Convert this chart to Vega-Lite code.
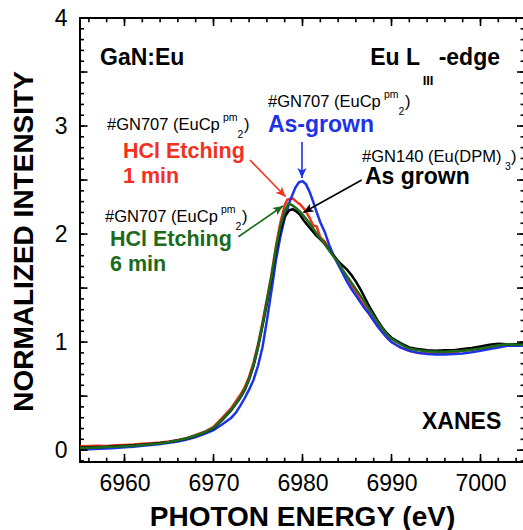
{
  "$schema": "https://vega.github.io/schema/vega-lite/v6.json",
  "width": 445,
  "height": 444,
  "autosize": {"type": "none"},
  "padding": {"left": 80, "top": 18, "right": 0, "bottom": 68},
  "background": "white",
  "config": {
    "view": {"stroke": "black", "strokeWidth": 2},
    "font": "Liberation Sans",
    "axis": {"grid": false, "domain": false, "ticks": false, "labelColor": "black", "titleColor": "black", "labelFont": "Liberation Sans", "titleFont": "Liberation Sans"}
  },
  "datasets": {
    "curves": [
      {"s":"HCl 1 min","E":6955,"I":0.035},{"s":"HCl 1 min","E":6956,"I":0.037},{"s":"HCl 1 min","E":6957,"I":0.04},{"s":"HCl 1 min","E":6958,"I":0.038},{"s":"HCl 1 min","E":6959,"I":0.045},{"s":"HCl 1 min","E":6960,"I":0.048},{"s":"HCl 1 min","E":6961,"I":0.052},{"s":"HCl 1 min","E":6962,"I":0.058},{"s":"HCl 1 min","E":6963,"I":0.064},{"s":"HCl 1 min","E":6964,"I":0.07},{"s":"HCl 1 min","E":6965,"I":0.08},{"s":"HCl 1 min","E":6966,"I":0.094},{"s":"HCl 1 min","E":6967,"I":0.11},{"s":"HCl 1 min","E":6968,"I":0.14},{"s":"HCl 1 min","E":6969,"I":0.17},{"s":"HCl 1 min","E":6970,"I":0.215},{"s":"HCl 1 min","E":6971,"I":0.3},{"s":"HCl 1 min","E":6972,"I":0.39},{"s":"HCl 1 min","E":6973,"I":0.51},{"s":"HCl 1 min","E":6973.5,"I":0.58},{"s":"HCl 1 min","E":6974,"I":0.68},{"s":"HCl 1 min","E":6974.5,"I":0.81},{"s":"HCl 1 min","E":6975,"I":0.98},{"s":"HCl 1 min","E":6975.5,"I":1.18},{"s":"HCl 1 min","E":6976,"I":1.4},{"s":"HCl 1 min","E":6976.5,"I":1.62},{"s":"HCl 1 min","E":6977,"I":1.88},{"s":"HCl 1 min","E":6977.5,"I":2.1},{"s":"HCl 1 min","E":6978,"I":2.27},{"s":"HCl 1 min","E":6978.3,"I":2.32},{"s":"HCl 1 min","E":6978.9,"I":2.33},{"s":"HCl 1 min","E":6979.3,"I":2.3},{"s":"HCl 1 min","E":6979.8,"I":2.27},{"s":"HCl 1 min","E":6980.3,"I":2.22},{"s":"HCl 1 min","E":6980.8,"I":2.15},{"s":"HCl 1 min","E":6981.2,"I":2.08},{"s":"HCl 1 min","E":6981.6,"I":2.07},{"s":"HCl 1 min","E":6982,"I":1.97},{"s":"HCl 1 min","E":6982.5,"I":1.93},{"s":"HCl 1 min","E":6983,"I":1.86},{"s":"HCl 1 min","E":6983.5,"I":1.8},{"s":"HCl 1 min","E":6984,"I":1.73},{"s":"HCl 1 min","E":6984.5,"I":1.66},{"s":"HCl 1 min","E":6985,"I":1.6},{"s":"HCl 1 min","E":6985.5,"I":1.52},{"s":"HCl 1 min","E":6986,"I":1.46},{"s":"HCl 1 min","E":6986.5,"I":1.39},{"s":"HCl 1 min","E":6987,"I":1.33},{"s":"HCl 1 min","E":6987.5,"I":1.26},{"s":"HCl 1 min","E":6988,"I":1.2},{"s":"HCl 1 min","E":6988.5,"I":1.14},{"s":"HCl 1 min","E":6989,"I":1.09},{"s":"HCl 1 min","E":6989.5,"I":1.04},{"s":"HCl 1 min","E":6990,"I":1.0},{"s":"HCl 1 min","E":6991,"I":0.95},{"s":"HCl 1 min","E":6992,"I":0.92},{"s":"HCl 1 min","E":6993,"I":0.9},{"s":"HCl 1 min","E":6994,"I":0.9},{"s":"HCl 1 min","E":6996,"I":0.9},{"s":"HCl 1 min","E":6998,"I":0.92},{"s":"HCl 1 min","E":7000,"I":0.94},{"s":"HCl 1 min","E":7002,"I":0.96},{"s":"HCl 1 min","E":7003,"I":0.98},{"s":"HCl 1 min","E":7005,"I":0.97},

      {"s":"As-grown (GN707)","E":6955,"I":0.005},{"s":"As-grown (GN707)","E":6956,"I":0.008},{"s":"As-grown (GN707)","E":6957,"I":0.012},{"s":"As-grown (GN707)","E":6958,"I":0.016},{"s":"As-grown (GN707)","E":6959,"I":0.02},{"s":"As-grown (GN707)","E":6960,"I":0.026},{"s":"As-grown (GN707)","E":6961,"I":0.032},{"s":"As-grown (GN707)","E":6962,"I":0.04},{"s":"As-grown (GN707)","E":6963,"I":0.048},{"s":"As-grown (GN707)","E":6964,"I":0.057},{"s":"As-grown (GN707)","E":6965,"I":0.067},{"s":"As-grown (GN707)","E":6966,"I":0.08},{"s":"As-grown (GN707)","E":6967,"I":0.098},{"s":"As-grown (GN707)","E":6968,"I":0.12},{"s":"As-grown (GN707)","E":6969,"I":0.15},{"s":"As-grown (GN707)","E":6970,"I":0.185},{"s":"As-grown (GN707)","E":6971,"I":0.24},{"s":"As-grown (GN707)","E":6972,"I":0.3},{"s":"As-grown (GN707)","E":6972.5,"I":0.345},{"s":"As-grown (GN707)","E":6973,"I":0.41},{"s":"As-grown (GN707)","E":6973.5,"I":0.48},{"s":"As-grown (GN707)","E":6974,"I":0.56},{"s":"As-grown (GN707)","E":6974.5,"I":0.65},{"s":"As-grown (GN707)","E":6975,"I":0.78},{"s":"As-grown (GN707)","E":6975.5,"I":0.95},{"s":"As-grown (GN707)","E":6976,"I":1.2},{"s":"As-grown (GN707)","E":6976.6,"I":1.52},{"s":"As-grown (GN707)","E":6977,"I":1.75},{"s":"As-grown (GN707)","E":6977.5,"I":1.97},{"s":"As-grown (GN707)","E":6978,"I":2.15},{"s":"As-grown (GN707)","E":6978.6,"I":2.31},{"s":"As-grown (GN707)","E":6979.2,"I":2.43},{"s":"As-grown (GN707)","E":6979.6,"I":2.48},{"s":"As-grown (GN707)","E":6980,"I":2.49},{"s":"As-grown (GN707)","E":6980.4,"I":2.46},{"s":"As-grown (GN707)","E":6980.8,"I":2.39},{"s":"As-grown (GN707)","E":6981.2,"I":2.3},{"s":"As-grown (GN707)","E":6981.6,"I":2.2},{"s":"As-grown (GN707)","E":6982,"I":2.11},{"s":"As-grown (GN707)","E":6982.5,"I":2.02},{"s":"As-grown (GN707)","E":6983,"I":1.9},{"s":"As-grown (GN707)","E":6983.5,"I":1.8},{"s":"As-grown (GN707)","E":6984,"I":1.72},{"s":"As-grown (GN707)","E":6984.5,"I":1.64},{"s":"As-grown (GN707)","E":6985,"I":1.56},{"s":"As-grown (GN707)","E":6985.5,"I":1.49},{"s":"As-grown (GN707)","E":6986,"I":1.43},{"s":"As-grown (GN707)","E":6986.5,"I":1.37},{"s":"As-grown (GN707)","E":6987,"I":1.31},{"s":"As-grown (GN707)","E":6987.5,"I":1.26},{"s":"As-grown (GN707)","E":6988,"I":1.2},{"s":"As-grown (GN707)","E":6988.5,"I":1.14},{"s":"As-grown (GN707)","E":6989,"I":1.09},{"s":"As-grown (GN707)","E":6989.5,"I":1.04},{"s":"As-grown (GN707)","E":6990,"I":1.0},{"s":"As-grown (GN707)","E":6991,"I":0.95},{"s":"As-grown (GN707)","E":6992,"I":0.92},{"s":"As-grown (GN707)","E":6993,"I":0.9},{"s":"As-grown (GN707)","E":6994,"I":0.89},{"s":"As-grown (GN707)","E":6995,"I":0.885},{"s":"As-grown (GN707)","E":6996,"I":0.885},{"s":"As-grown (GN707)","E":6997,"I":0.89},{"s":"As-grown (GN707)","E":6998,"I":0.895},{"s":"As-grown (GN707)","E":6999,"I":0.905},{"s":"As-grown (GN707)","E":7000,"I":0.92},{"s":"As-grown (GN707)","E":7001,"I":0.935},{"s":"As-grown (GN707)","E":7002,"I":0.95},{"s":"As-grown (GN707)","E":7003,"I":0.965},{"s":"As-grown (GN707)","E":7004,"I":0.965},{"s":"As-grown (GN707)","E":7005,"I":0.965},

      {"s":"As grown (GN140)","E":6955,"I":0.025},{"s":"As grown (GN140)","E":6956,"I":0.027},{"s":"As grown (GN140)","E":6957,"I":0.03},{"s":"As grown (GN140)","E":6958,"I":0.032},{"s":"As grown (GN140)","E":6959,"I":0.036},{"s":"As grown (GN140)","E":6960,"I":0.04},{"s":"As grown (GN140)","E":6961,"I":0.044},{"s":"As grown (GN140)","E":6962,"I":0.05},{"s":"As grown (GN140)","E":6963,"I":0.057},{"s":"As grown (GN140)","E":6964,"I":0.065},{"s":"As grown (GN140)","E":6965,"I":0.076},{"s":"As grown (GN140)","E":6966,"I":0.09},{"s":"As grown (GN140)","E":6967,"I":0.108},{"s":"As grown (GN140)","E":6968,"I":0.132},{"s":"As grown (GN140)","E":6969,"I":0.162},{"s":"As grown (GN140)","E":6970,"I":0.2},{"s":"As grown (GN140)","E":6971,"I":0.28},{"s":"As grown (GN140)","E":6972,"I":0.37},{"s":"As grown (GN140)","E":6973,"I":0.485},{"s":"As grown (GN140)","E":6973.5,"I":0.555},{"s":"As grown (GN140)","E":6974,"I":0.655},{"s":"As grown (GN140)","E":6974.5,"I":0.78},{"s":"As grown (GN140)","E":6975,"I":0.95},{"s":"As grown (GN140)","E":6975.5,"I":1.15},{"s":"As grown (GN140)","E":6976,"I":1.36},{"s":"As grown (GN140)","E":6976.5,"I":1.58},{"s":"As grown (GN140)","E":6977,"I":1.83},{"s":"As grown (GN140)","E":6977.5,"I":2.03},{"s":"As grown (GN140)","E":6978,"I":2.16},{"s":"As grown (GN140)","E":6978.5,"I":2.22},{"s":"As grown (GN140)","E":6978.9,"I":2.23},{"s":"As grown (GN140)","E":6979.3,"I":2.21},{"s":"As grown (GN140)","E":6979.7,"I":2.18},{"s":"As grown (GN140)","E":6980.1,"I":2.13},{"s":"As grown (GN140)","E":6980.5,"I":2.09},{"s":"As grown (GN140)","E":6981,"I":2.04},{"s":"As grown (GN140)","E":6981.5,"I":1.99},{"s":"As grown (GN140)","E":6982,"I":1.95},{"s":"As grown (GN140)","E":6982.5,"I":1.91},{"s":"As grown (GN140)","E":6983,"I":1.85},{"s":"As grown (GN140)","E":6983.5,"I":1.8},{"s":"As grown (GN140)","E":6984,"I":1.75},{"s":"As grown (GN140)","E":6984.5,"I":1.71},{"s":"As grown (GN140)","E":6985,"I":1.67},{"s":"As grown (GN140)","E":6985.5,"I":1.62},{"s":"As grown (GN140)","E":6986,"I":1.56},{"s":"As grown (GN140)","E":6986.5,"I":1.49},{"s":"As grown (GN140)","E":6987,"I":1.41},{"s":"As grown (GN140)","E":6987.5,"I":1.33},{"s":"As grown (GN140)","E":6988,"I":1.26},{"s":"As grown (GN140)","E":6988.5,"I":1.19},{"s":"As grown (GN140)","E":6989,"I":1.13},{"s":"As grown (GN140)","E":6989.5,"I":1.08},{"s":"As grown (GN140)","E":6990,"I":1.04},{"s":"As grown (GN140)","E":6991,"I":0.99},{"s":"As grown (GN140)","E":6992,"I":0.95},{"s":"As grown (GN140)","E":6993,"I":0.935},{"s":"As grown (GN140)","E":6994,"I":0.925},{"s":"As grown (GN140)","E":6995,"I":0.92},{"s":"As grown (GN140)","E":6996,"I":0.925},{"s":"As grown (GN140)","E":6997,"I":0.925},{"s":"As grown (GN140)","E":6998,"I":0.935},{"s":"As grown (GN140)","E":6999,"I":0.945},{"s":"As grown (GN140)","E":7000,"I":0.96},{"s":"As grown (GN140)","E":7001,"I":0.975},{"s":"As grown (GN140)","E":7002,"I":0.985},{"s":"As grown (GN140)","E":7003,"I":0.98},{"s":"As grown (GN140)","E":7004,"I":0.98},{"s":"As grown (GN140)","E":7005,"I":0.985},

      {"s":"HCl 6 min","E":6955,"I":0.02},{"s":"HCl 6 min","E":6956,"I":0.022},{"s":"HCl 6 min","E":6957,"I":0.025},{"s":"HCl 6 min","E":6958,"I":0.028},{"s":"HCl 6 min","E":6959,"I":0.032},{"s":"HCl 6 min","E":6960,"I":0.036},{"s":"HCl 6 min","E":6961,"I":0.04},{"s":"HCl 6 min","E":6962,"I":0.047},{"s":"HCl 6 min","E":6963,"I":0.055},{"s":"HCl 6 min","E":6964,"I":0.064},{"s":"HCl 6 min","E":6965,"I":0.075},{"s":"HCl 6 min","E":6966,"I":0.09},{"s":"HCl 6 min","E":6967,"I":0.11},{"s":"HCl 6 min","E":6968,"I":0.135},{"s":"HCl 6 min","E":6969,"I":0.165},{"s":"HCl 6 min","E":6970,"I":0.205},{"s":"HCl 6 min","E":6971,"I":0.285},{"s":"HCl 6 min","E":6972,"I":0.375},{"s":"HCl 6 min","E":6973,"I":0.49},{"s":"HCl 6 min","E":6973.5,"I":0.56},{"s":"HCl 6 min","E":6974,"I":0.66},{"s":"HCl 6 min","E":6974.5,"I":0.79},{"s":"HCl 6 min","E":6975,"I":0.96},{"s":"HCl 6 min","E":6975.5,"I":1.16},{"s":"HCl 6 min","E":6976,"I":1.38},{"s":"HCl 6 min","E":6976.5,"I":1.6},{"s":"HCl 6 min","E":6977,"I":1.86},{"s":"HCl 6 min","E":6977.5,"I":2.07},{"s":"HCl 6 min","E":6978,"I":2.21},{"s":"HCl 6 min","E":6978.4,"I":2.28},{"s":"HCl 6 min","E":6978.8,"I":2.27},{"s":"HCl 6 min","E":6979.3,"I":2.24},{"s":"HCl 6 min","E":6979.8,"I":2.2},{"s":"HCl 6 min","E":6980.3,"I":2.15},{"s":"HCl 6 min","E":6980.8,"I":2.1},{"s":"HCl 6 min","E":6981.3,"I":2.04},{"s":"HCl 6 min","E":6981.8,"I":1.98},{"s":"HCl 6 min","E":6982.3,"I":1.93},{"s":"HCl 6 min","E":6983,"I":1.85},{"s":"HCl 6 min","E":6983.5,"I":1.79},{"s":"HCl 6 min","E":6984,"I":1.74},{"s":"HCl 6 min","E":6984.5,"I":1.67},{"s":"HCl 6 min","E":6985,"I":1.61},{"s":"HCl 6 min","E":6985.5,"I":1.55},{"s":"HCl 6 min","E":6986,"I":1.49},{"s":"HCl 6 min","E":6986.5,"I":1.43},{"s":"HCl 6 min","E":6987,"I":1.37},{"s":"HCl 6 min","E":6987.5,"I":1.3},{"s":"HCl 6 min","E":6988,"I":1.24},{"s":"HCl 6 min","E":6988.5,"I":1.18},{"s":"HCl 6 min","E":6989,"I":1.12},{"s":"HCl 6 min","E":6989.5,"I":1.07},{"s":"HCl 6 min","E":6990,"I":1.03},{"s":"HCl 6 min","E":6991,"I":0.98},{"s":"HCl 6 min","E":6992,"I":0.94},{"s":"HCl 6 min","E":6993,"I":0.925},{"s":"HCl 6 min","E":6994,"I":0.915},{"s":"HCl 6 min","E":6995,"I":0.91},{"s":"HCl 6 min","E":6996,"I":0.91},{"s":"HCl 6 min","E":6997,"I":0.915},{"s":"HCl 6 min","E":6998,"I":0.92},{"s":"HCl 6 min","E":6999,"I":0.93},{"s":"HCl 6 min","E":7000,"I":0.94},{"s":"HCl 6 min","E":7001,"I":0.955},{"s":"HCl 6 min","E":7002,"I":0.97},{"s":"HCl 6 min","E":7003,"I":0.98},{"s":"HCl 6 min","E":7004,"I":0.975},{"s":"HCl 6 min","E":7005,"I":0.975}
    ],
    "xticks": [
      {"E":6956,"k":"minor"},{"E":6958,"k":"minor"},{"E":6960,"k":"major"},{"E":6962,"k":"minor"},{"E":6964,"k":"minor"},{"E":6966,"k":"minor"},{"E":6968,"k":"minor"},{"E":6970,"k":"major"},{"E":6972,"k":"minor"},{"E":6974,"k":"minor"},{"E":6976,"k":"minor"},{"E":6978,"k":"minor"},{"E":6980,"k":"major"},{"E":6982,"k":"minor"},{"E":6984,"k":"minor"},{"E":6986,"k":"minor"},{"E":6988,"k":"minor"},{"E":6990,"k":"major"},{"E":6992,"k":"minor"},{"E":6994,"k":"minor"},{"E":6996,"k":"minor"},{"E":6998,"k":"minor"},{"E":7000,"k":"major"},{"E":7002,"k":"minor"},{"E":7004,"k":"minor"}
    ],
    "yticks": [
      {"I":-0.1,"k":"minor"},{"I":0,"k":"major"},{"I":0.1,"k":"minor"},{"I":0.2,"k":"minor"},{"I":0.3,"k":"minor"},{"I":0.4,"k":"minor"},{"I":0.5,"k":"major"},{"I":0.6,"k":"minor"},{"I":0.7,"k":"minor"},{"I":0.8,"k":"minor"},{"I":0.9,"k":"minor"},{"I":1,"k":"major"},{"I":1.1,"k":"minor"},{"I":1.2,"k":"minor"},{"I":1.3,"k":"minor"},{"I":1.4,"k":"minor"},{"I":1.5,"k":"major"},{"I":1.6,"k":"minor"},{"I":1.7,"k":"minor"},{"I":1.8,"k":"minor"},{"I":1.9,"k":"minor"},{"I":2,"k":"major"},{"I":2.1,"k":"minor"},{"I":2.2,"k":"minor"},{"I":2.3,"k":"minor"},{"I":2.4,"k":"minor"},{"I":2.5,"k":"major"},{"I":2.6,"k":"minor"},{"I":2.7,"k":"minor"},{"I":2.8,"k":"minor"},{"I":2.9,"k":"minor"},{"I":3,"k":"major"},{"I":3.1,"k":"minor"},{"I":3.2,"k":"minor"},{"I":3.3,"k":"minor"},{"I":3.4,"k":"minor"},{"I":3.5,"k":"major"},{"I":3.6,"k":"minor"},{"I":3.7,"k":"minor"},{"I":3.8,"k":"minor"},{"I":3.9,"k":"minor"}
    ],
    "arrows": [
      {"s":"As-grown (GN707)","E":6979.94,"I":2.852,"E2":6979.94,"I2":2.52},
      {"s":"HCl 1 min","E":6974.1,"I":2.685,"E2":6978.1,"I2":2.345},
      {"s":"HCl 6 min","E":6972.8,"I":1.975,"E2":6977.8,"I2":2.26},
      {"s":"As grown (GN140)","E":6986.65,"I":2.5,"E2":6980.1,"I2":2.2}
    ],
    "bold": [
      {"s":"text","E":6957.25,"I":3.634,"t":"GaN:Eu"},
      {"s":"text","E":6987.6,"I":3.634,"t":"Eu L"},
      {"s":"text","E":6995.3,"I":3.634,"t":"-edge"},
      {"s":"text","E":6993.43,"I":0.262,"t":"XANES"},
      {"s":"As grown (GN140)","E":6987.02,"I":2.528,"t":"As grown"},
      {"s":"As-grown (GN707)","E":6976.12,"I":3.009,"t":"As-grown"}
    ],
    "boldmid": [
      {"s":"HCl 1 min","E":6959.83,"I":2.762,"t":"HCl Etching"},
      {"s":"HCl 1 min","E":6959.83,"I":2.531,"t":"1 min"},
      {"s":"HCl 6 min","E":6958.37,"I":1.944,"t":"HCl Etching"},
      {"s":"HCl 6 min","E":6958.37,"I":1.713,"t":"6 min"}
    ],
    "boldsub": [
      {"E":6993.5,"I":3.42,"t":"III"}
    ],
    "normal": [
      {"E":6976.12,"I":3.222,"t":"#GN707 (EuCp"},
      {"E":6991.51,"I":3.222,"t":")"},
      {"E":6958.03,"I":3.009,"t":"#GN707 (EuCp"},
      {"E":6973.42,"I":3.009,"t":")"},
      {"E":6957.81,"I":2.16,"t":"#GN707 (EuCp"},
      {"E":6973.2,"I":2.16,"t":")"},
      {"E":6986.69,"I":2.713,"t":"#GN140 (Eu(DPM)"},
      {"E":7003.43,"I":2.713,"t":")"}
    ],
    "small": [
      {"E":6989.15,"I":3.287,"t":"pm"},
      {"E":6990.78,"I":3.129,"t":"2"},
      {"E":6971.06,"I":3.074,"t":"pm"},
      {"E":6972.69,"I":2.916,"t":"2"},
      {"E":6970.84,"I":2.225,"t":"pm"},
      {"E":6972.47,"I":2.067,"t":"2"},
      {"E":7002.75,"I":2.62,"t":"3"}
    ]
  },
  "layer": [
    {
      "data": {"name": "curves"},
      "mark": {"type": "line", "strokeWidth": 2.5, "interpolate": "linear"},
      "encoding": {
        "x": {"field": "E", "type": "quantitative", "scale": {"domain": [6955, 7005], "nice": false, "zero": false},
          "axis": {"orient": "bottom", "values": [6960, 6970, 6980, 6990, 7000], "format": "d",
            "labelFontSize": 23, "labelPadding": 10, "labelFlush": false, "labelOverlap": false,
            "title": "PHOTON ENERGY (eV)", "titleFontSize": 28, "titleFontWeight": "bold", "titleX": 222, "titleY": 63, "titleBaseline": "alphabetic"}},
        "y": {"field": "I", "type": "quantitative", "scale": {"domain": [-0.11, 4], "nice": false, "zero": false},
          "axis": {"orient": "left", "values": [0, 1, 2, 3, 4], "format": "d",
            "labelFontSize": 23, "labelPadding": 13, "labelFlush": false, "labelOverlap": false,
            "title": "NORMALIZED INTENSITY", "titleFontSize": 28, "titleFontWeight": "bold", "titleX": -48, "titleY": 223, "titleBaseline": "alphabetic"}},
        "color": {"field": "s", "type": "nominal", "legend": null,
          "scale": {"domain": ["HCl 1 min", "As-grown (GN707)", "As grown (GN140)", "HCl 6 min", "text"], "range": ["#f2311f", "#1c33e8", "#000000", "#1b6b1b", "#000000"]}}
      }
    },
    {
      "data": {"name": "xticks"},
      "mark": {"type": "rule", "strokeWidth": 1.6, "color": "black"},
      "encoding": {
        "x": {"field": "E", "type": "quantitative"},
        "y": {"datum": -0.11, "type": "quantitative"},
        "y2": {"datum": -0.07}
      }
    },
    {
      "data": {"name": "xticks"},
      "transform": [{"filter": "datum.k == 'major'"}],
      "mark": {"type": "rule", "strokeWidth": 1.6, "color": "black"},
      "encoding": {
        "x": {"field": "E", "type": "quantitative"},
        "y": {"datum": -0.11, "type": "quantitative"},
        "y2": {"datum": -0.035}
      }
    },
    {
      "data": {"name": "xticks"},
      "mark": {"type": "rule", "strokeWidth": 1.6, "color": "black"},
      "encoding": {
        "x": {"field": "E", "type": "quantitative"},
        "y": {"datum": 4, "type": "quantitative"},
        "y2": {"datum": 3.96}
      }
    },
    {
      "data": {"name": "xticks"},
      "transform": [{"filter": "datum.k == 'major'"}],
      "mark": {"type": "rule", "strokeWidth": 1.6, "color": "black"},
      "encoding": {
        "x": {"field": "E", "type": "quantitative"},
        "y": {"datum": 4, "type": "quantitative"},
        "y2": {"datum": 3.925}
      }
    },
    {
      "data": {"name": "yticks"},
      "mark": {"type": "rule", "strokeWidth": 1.6, "color": "black"},
      "encoding": {
        "y": {"field": "I", "type": "quantitative"},
        "x": {"datum": 6955, "type": "quantitative"},
        "x2": {"datum": 6955.45}
      }
    },
    {
      "data": {"name": "yticks"},
      "transform": [{"filter": "datum.k == 'major'"}],
      "mark": {"type": "rule", "strokeWidth": 1.6, "color": "black"},
      "encoding": {
        "y": {"field": "I", "type": "quantitative"},
        "x": {"datum": 6955, "type": "quantitative"},
        "x2": {"datum": 6955.85}
      }
    },
    {
      "data": {"name": "yticks"},
      "mark": {"type": "rule", "strokeWidth": 1.6, "color": "black"},
      "encoding": {
        "y": {"field": "I", "type": "quantitative"},
        "x": {"datum": 7005, "type": "quantitative"},
        "x2": {"datum": 7004.5}
      }
    },
    {
      "data": {"name": "yticks"},
      "transform": [{"filter": "datum.k == 'major'"}],
      "mark": {"type": "rule", "strokeWidth": 1.6, "color": "black"},
      "encoding": {
        "y": {"field": "I", "type": "quantitative"},
        "x": {"datum": 7005, "type": "quantitative"},
        "x2": {"datum": 7004.1}
      }
    },
    {
      "data": {"name": "arrows"},
      "mark": {"type": "rule", "strokeWidth": 1.6},
      "encoding": {
        "x": {"field": "E", "type": "quantitative"},
        "y": {"field": "I", "type": "quantitative"},
        "x2": {"field": "E2"},
        "y2": {"field": "I2"},
        "color": {"field": "s", "type": "nominal", "legend": null}
      }
    },
    {
      "data": {"name": "arrows"},
      "transform": [{"calculate": "atan2((datum.E2 - datum.E) * 8.9, (datum.I2 - datum.I) * 108) * 180 / PI", "as": "ang"}],
      "mark": {"type": "point", "shape": "M0,0L-0.45,1L0,0.75L0.45,1Z", "filled": true, "opacity": 1, "size": 400},
      "encoding": {
        "x": {"field": "E2", "type": "quantitative"},
        "y": {"field": "I2", "type": "quantitative"},
        "angle": {"field": "ang", "type": "quantitative", "scale": null},
        "color": {"field": "s", "type": "nominal", "legend": null}
      }
    },
    {
      "data": {"name": "bold"},
      "mark": {"type": "text", "align": "left", "baseline": "middle", "fontSize": 23, "fontWeight": "bold", "font": "Liberation Sans"},
      "encoding": {
        "x": {"field": "E", "type": "quantitative"},
        "y": {"field": "I", "type": "quantitative"},
        "text": {"field": "t"},
        "color": {"field": "s", "type": "nominal", "legend": null}
      }
    },
    {
      "data": {"name": "boldmid"},
      "mark": {"type": "text", "align": "left", "baseline": "middle", "fontSize": 21.5, "fontWeight": "bold", "font": "Liberation Sans"},
      "encoding": {
        "x": {"field": "E", "type": "quantitative"},
        "y": {"field": "I", "type": "quantitative"},
        "text": {"field": "t"},
        "color": {"field": "s", "type": "nominal", "legend": null}
      }
    },
    {
      "data": {"name": "boldsub"},
      "mark": {"type": "text", "align": "left", "baseline": "middle", "fontSize": 13, "fontWeight": "bold", "font": "Liberation Sans", "color": "black"},
      "encoding": {
        "x": {"field": "E", "type": "quantitative"},
        "y": {"field": "I", "type": "quantitative"},
        "text": {"field": "t"}
      }
    },
    {
      "data": {"name": "normal"},
      "mark": {"type": "text", "align": "left", "baseline": "middle", "fontSize": 16.5, "font": "Liberation Sans", "color": "black"},
      "encoding": {
        "x": {"field": "E", "type": "quantitative"},
        "y": {"field": "I", "type": "quantitative"},
        "text": {"field": "t"}
      }
    },
    {
      "data": {"name": "small"},
      "mark": {"type": "text", "align": "left", "baseline": "middle", "fontSize": 10.5, "font": "Liberation Sans", "color": "black"},
      "encoding": {
        "x": {"field": "E", "type": "quantitative"},
        "y": {"field": "I", "type": "quantitative"},
        "text": {"field": "t"}
      }
    }
  ]
}
